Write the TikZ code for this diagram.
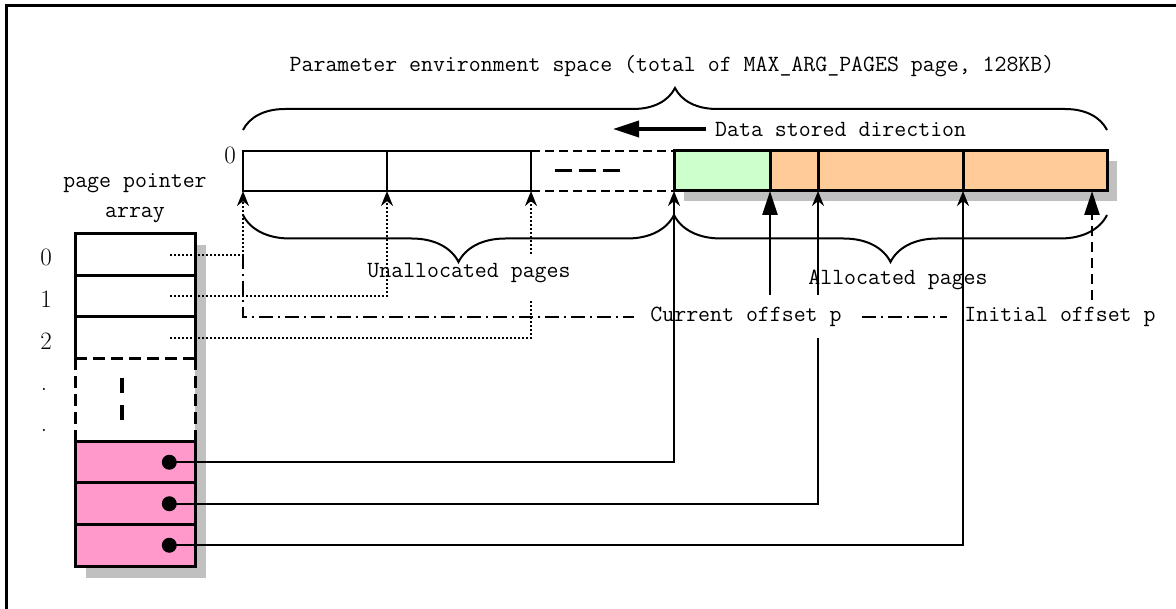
\documentclass[tikz,border=0pt]{standalone}
\usepackage{fontspec}
\usepackage{tikz}
\usetikzlibrary{arrows.meta, positioning, decorations.pathreplacing}
\definecolor{pinkfill}{HTML}{FF99CC}
\definecolor{greenfill}{HTML}{CCFFCC}
\definecolor{orangefill}{HTML}{FFCC99}
\definecolor{shadowgray}{HTML}{C0C0C0}

\begin{document}
\begin{tikzpicture}[
            x=1pt, y=-1pt,
            >=Stealth,
            txt/.style={font=\ttfamily\fontsize{23.2}{30}\selectfont, inner sep=0pt, align=center},
            idx/.style={font=\fontsize{25}{28}\selectfont, inner sep=0pt},
            pagecell/.style={rectangle, draw, line width=2pt, anchor=north west, inner sep=0pt, outer sep=0pt, minimum height=40},
            usedcell/.style={pagecell, line width=3pt, fill=orangefill},
            slot/.style={rectangle, draw, line width=3pt, fill=white, anchor=north west, inner sep=0pt, outer sep=0pt, minimum width=120, minimum height=41.5},
            ptrcell/.style={slot, fill=pinkfill},
            ptrdot/.style={circle, fill, inner sep=0pt, minimum size=15},
            openhead/.style={-{Stealth[length=15pt, width=12pt]}},
            fullhead/.style={-{Triangle[length=24pt, width=15pt]}},
            bracestyle/.style={decorate, decoration={brace, amplitude=#1}, line width=2pt},
            dashdot/.style={line width=2pt, dash pattern=on 14pt off 5pt on 2pt off 5pt},
            dotline/.style={line width=2.2pt, dash pattern=on 2pt off 2pt}
        ]
\useasboundingbox (0,0) rectangle (1176,609);
\draw[line width=3pt] (6,6) rectangle (1200,630);

% Pages
            \fill[shadowgray] (684,161) rectangle (1117,201);
            \node[pagecell, minimum width=144] (u1) at (243,151) {};
            \node[pagecell, minimum width=144, right=0pt of u1] (u2) {};
            \node[usedcell, fill=greenfill, minimum width=96] (a0) at (674,151) {};
            \node[usedcell, minimum width=48, right=0pt of a0] (a1) {};
            \node[usedcell, minimum width=145, right=0pt of a1] (a2) {};
            \node[usedcell, minimum width=144, right=0pt of a2] (a3) {};
            \draw[line width=2pt, dash pattern=on 9pt off 5pt] (u2.north east) -- (a0.north west);
            \draw[line width=2pt, dash pattern=on 9pt off 5pt] (u2.south east) -- (a0.south west);
            \draw[line width=3pt, dash pattern=on 17pt off 7pt] (555,171) -- (620,171);
            \node[idx] (zero) at (230,155) {0};

% Page pointer array
            \fill[shadowgray] (86,245) rectangle (206,578);
            \node[slot] (p0) at (75,234) {};
            \node[slot, below=0pt of p0] (p1) {};
            \node[slot, draw=none, below=0pt of p1] (p2) {};
            \draw[line width=3pt] (p1.south west) -- (p1.south east);
            \draw[line width=3pt] (p2.north west) -- (p2.south west) (p2.north east) -- (p2.south east);
            \node[slot, draw=none, minimum height=83, below=0pt of p2] (gap) {};
            \node[ptrcell, below=0pt of gap] (q1) {};
            \node[ptrcell, below=0pt of q1] (q2) {};
            \node[ptrcell, below=0pt of q2] (q3) {};
            \draw[line width=3pt, dash pattern=on 12pt off 6pt] (gap.north west) -- (gap.north east);
            \draw[line width=3pt, dash pattern=on 12pt off 6pt] (gap.north west) -- (gap.south west);
            \draw[line width=3pt, dash pattern=on 12pt off 6pt] (gap.north east) -- (gap.south east);
            \draw[line width=3.5pt, dash pattern=on 15pt off 12pt] (122,378) -- (122,421);
            \node[txt] (ppa) at (135,198) {page pointer\\array};
            \node[idx] (i0) at (46,257) {0};
            \node[idx] (i1) at (46,299) {1};
            \node[idx] (i2) at (46,341) {2};
            \node[idx, anchor=base] (e1) at (44,391) {.};
            \node[idx, anchor=base] (e2) at (44,432) {.};
            \node[ptrdot, left=18pt of q1.east] (d1) {};
            \node[ptrdot, left=18pt of q2.east] (d2) {};
            \node[ptrdot, left=18pt of q3.east] (d3) {};
            \coordinate[left=25pt of p0.east] (s0);
            \coordinate[left=25pt of p1.east] (s1);
            \coordinate[left=25pt of p2.east] (s2);

% Labels
            \node[txt] (title) at (672,66) {Parameter environment space (total of MAX\_ARG\_PAGES page, 128KB)};
            \node[txt, anchor=west] (dir) at (715,129) {Data stored direction};
            \node[txt] (unalloc) at (469,273) {Unallocated pages};
            \node[txt] (alloc) at (898,280) {Allocated pages};
            \node[txt] (cur) at (746,317) {Current offset p};
            \node[txt] (init) at (1060,317) {Initial offset p};
            \coordinate (dirend) at (613,129);
            \coordinate (gp1) at (531,300);
            \coordinate (gp2) at (531,254);
            \coordinate (cp) at (770,295);
            \coordinate (gp3) at (818,338);
            \coordinate (gp4) at (818,295);
            \coordinate (ip) at (1092,300);

% Braces
            \draw[bracestyle=42] ([yshift=21pt]u1.north west) -- ([yshift=21pt]a3.north east);
            \draw[bracestyle=47] ([yshift=-24pt]a0.south west) -- ([yshift=-24pt]u1.south west);
            \draw[bracestyle=47] ([yshift=-24pt]a3.south east) -- ([yshift=-24pt]a0.south west);

% Edges
            \draw[line width=3.5pt, -{Triangle[length=26pt, width=16pt]}] ([xshift=-9pt]dir.west) -- (dirend);
            \draw[dashdot] (s0 -| u1.south west) |- ([xshift=-16pt]cur.west);
            \draw[dashdot] ([xshift=20pt]cur.east) -- ([xshift=-17pt]init.west);
            \draw[dotline, openhead] (s0) -| (u1.south west);
            \draw[dotline, openhead] (s1) -| (u2.south west);
            \draw[dotline] (s2) -| (gp1);
            \draw[dotline, openhead] (gp2) -- (u2.south east);
            \draw[line width=2.2pt, openhead] (d1.center) -| (a0.south west);
            \draw[line width=2.2pt] (d2.center) -| (gp3);
            \draw[line width=2.2pt, openhead] (gp4) -- (a1.south east);
            \draw[line width=2.2pt, openhead] (d3.center) -| (a3.south west);
            \draw[line width=2.4pt, fullhead] (cp) -- (a0.south east);
            \draw[line width=2.6pt, dash pattern=on 10pt off 6pt, fullhead] (ip) -- (ip |- a3.south);

        \end{tikzpicture}
\end{document}
